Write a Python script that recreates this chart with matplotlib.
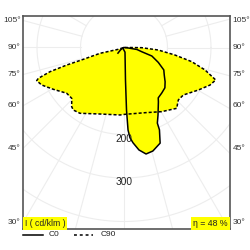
import numpy as np
import matplotlib
matplotlib.use("Agg")
import matplotlib.pyplot as plt
from matplotlib.lines import Line2D

plt.rcParams['font.family'] = ['Liberation Sans', 'DejaVu Sans']

# luminous intensity (cd/klm) vs angle from nadir (deg, + = right side), traced order
c0_angle = [-47, -55, -70, 12, 2.6, 2.3, 2.8, 3.8, 5.4, 8.3, 11.7, 15.6, 20.7, 23.3,
            23.8, 26.7, 32.3, 34.2, 39.6, 45.4, 50.2, 55.7, 60.6, 66.5, 73, 76.6,
            81.3, 88]
c0_int = [19, 10, 3, 11, 75, 144, 190, 208, 220, 238, 250, 247, 235, 206,
          190, 174, 148, 140, 136, 132, 123, 112, 105, 86, 67, 42,
          30, 4]

c90_angle = [-75, -72.5, -76.4, -73.8, -73, -71.9, -70.2, -69.2, -65.5, -59.4, -51.4,
             -45.8, -41.5, -39, -33.8, -19.8, -3.4, 0.9, 17.9, 30.4, 40.9, 46,
             51.3, 60.2, 66.4, 70.5, 74.5, 78.2, 81.6, 85.8, 89.4, 90]
c90_int = [2, 13.7, 56.8, 97.4, 137.7, 179, 209.4, 214.7, 207.9, 188.8, 168.6,
           167.6, 181.6, 185, 182, 162.5, 155.4, 153.6, 157.5, 171, 185, 173.6,
           174.7, 196.8, 215.7, 223.6, 193.3, 159, 118.5, 79, 40.7, 10]

rings = [100, 200, 300, 400]
ring_labels = [200, 300]
side_angles = [105, 90, 75, 60, 45, 30]
efficiency = 48


def to_xy(ang, val):
    a = np.radians(np.array(ang, dtype=float))
    r = np.array(val, dtype=float)
    return r * np.sin(a), -r * np.cos(a)


fig = plt.figure(figsize=(2.5, 2.5), dpi=100)
ax = fig.add_axes([23 / 250, 1 - 229 / 250, 207 / 250, 213 / 250])
xl, xr = -(124 - 23) / 0.435, (230 - 124) / 0.435
yt, yb = (47.5 - 16) / 0.435, -(229 - 47.5) / 0.435
ax.set_xlim(xl, xr)
ax.set_ylim(yb, yt)
ax.set_xticks([])
ax.set_yticks([])
for s in ax.spines.values():
    s.set_color('#555555')
    s.set_linewidth(1.2)

grid_c = '#ededed'
t = np.linspace(0, 2 * np.pi, 400)
for r in rings:
    ax.plot(r * np.cos(t), r * np.sin(t), color=grid_c, lw=0.8, zorder=1)
for a in np.arange(0, 360, 15):
    ar = np.radians(a)
    ax.plot([100 * np.sin(ar), 700 * np.sin(ar)], [-100 * np.cos(ar), -700 * np.cos(ar)],
            color=grid_c, lw=0.8, zorder=1)

x90, y90 = to_xy(c90_angle, c90_int)
x0, y0 = to_xy(c0_angle, c0_int)
ax.fill(x90, y90, color='#ffff00', lw=0, zorder=2)
ax.fill(x0, y0, color='#ffff00', lw=0, zorder=2)
ax.plot(np.append(x90, x90[0]), np.append(y90, y90[0]), color='black', lw=1.1,
        linestyle=(0, (2, 1.3)), zorder=3)
ax.plot(np.append(x0, 0), np.append(y0, 0), color='black', lw=1.1, zorder=4)

for r in ring_labels:
    ax.text(0, -(r + 10), str(r), ha='center', va='center', fontsize=7.3,
            color='#222222', zorder=5)

for a in side_angles:
    ar = np.radians(a)
    yl = 0 if a == 90 else xl / np.tan(ar)
    yl = max(yl, yb + 12)
    ax.text(-0.012, yl, '%d°' % a, transform=ax.get_yaxis_transform(), ha='right',
            va='center', fontsize=6, color='#333333', clip_on=False)
    ax.text(1.012, yl, '%d°' % a, transform=ax.get_yaxis_transform(), ha='left',
            va='center', fontsize=6, color='#333333', clip_on=False)

ax.text(0.008, 0.006, 'I ( cd/klm )', transform=ax.transAxes, ha='left', va='bottom',
        fontsize=6.2, color='#222222', zorder=6,
        bbox=dict(facecolor='#ffff00', edgecolor='none', boxstyle='square,pad=0.25'))
ax.text(0.99, 0.006, 'η = %d %%' % efficiency, transform=ax.transAxes, ha='right',
        va='bottom', fontsize=6.3, color='#222222', zorder=6,
        bbox=dict(facecolor='#ffff00', edgecolor='none', boxstyle='square,pad=0.25'))

ly = 1 - 235 / 250
fig.add_artist(Line2D([23.3 / 250, 43.3 / 250], [ly, ly], color='black', lw=1.1))
fig.text(49 / 250, ly, 'C0', ha='left', va='center', fontsize=6, color='#222222')
fig.add_artist(Line2D([74 / 250, 92.7 / 250], [ly, ly], color='black', lw=1.1,
                      linestyle=(0, (1.9, 1.9))))
fig.text(100.7 / 250, ly, 'C90', ha='left', va='center', fontsize=6, color='#222222')

fig.savefig('out.png', dpi=100, facecolor='white')
